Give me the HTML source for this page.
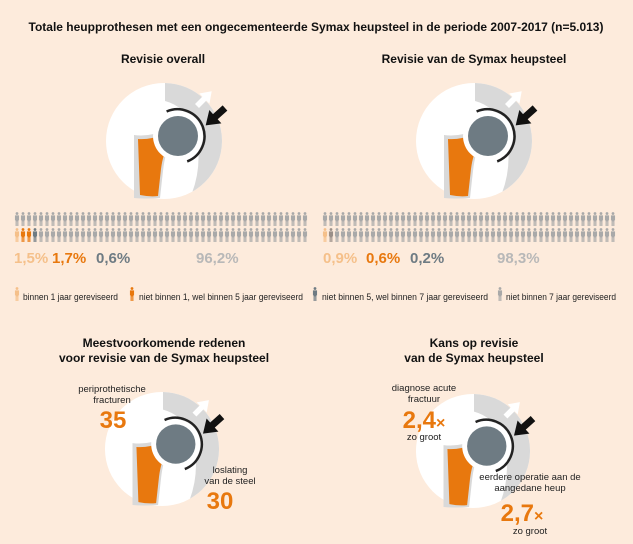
<!DOCTYPE html>
<html><head><meta charset="utf-8"><style>
html,body{margin:0;padding:0;background:#fdebdc;}
svg{display:block;font-family:"Liberation Sans",sans-serif;}
</style></head><body>
<svg width="633" height="544" viewBox="0 0 633 544" xmlns="http://www.w3.org/2000/svg">
<defs>
<clipPath id="gc"><path d="M1,-70 L90,-70 L90,30 L44,40 L28,52 Q40,20 30,-15 Q20,-35 1,-40 Z"/></clipPath>
<symbol id="hip" viewBox="-60 -60 120 120" overflow="visible">
  <circle cx="0" cy="0" r="58" fill="#ffffff"/>
  <circle cx="0" cy="0" r="58" fill="#d9d9d9" clip-path="url(#gc)"/>
  <path d="M-30,-6 L-30,57 Q-20,58 -4,57 L-1,30 Q1,12 6,4 L2,-11 Q-14,-4 -30,-6 Z" fill="#d9d9d9"/>
  <path d="M-26,-2 L-24,54 Q-14,56 -6,55 L-3,28 Q-1,12 5,4 L1,-7 Q-14,-1 -26,-2 Z" fill="#e8780e"/>
  <circle cx="14" cy="-5" r="25" fill="#ffffff"/>
  <path d="M2.6,-29.5 A27,27 0 1,1 23.2,20.4" fill="none" stroke="#222" stroke-width="2.5"/>
  <circle cx="14" cy="-5" r="20" fill="#6e7b83"/>
  <path transform="translate(33,-35) rotate(-45) scale(0.8)" d="M0,-3.5 L13,-3.5 L13,-9 L26,0 L13,9 L13,3.5 L0,3.5Z" fill="#ffffff"/>
  <path transform="translate(61,-33) rotate(138)" d="M0,-3.5 L13,-3.5 L13,-9 L26,0 L13,9 L13,3.5 L0,3.5Z" fill="#111"/>
</symbol>
<symbol id="p" viewBox="0 0 6 15">
  <circle cx="3" cy="1.6" r="1.5"/>
  <path d="M0.8,3.6 H5.2 V9 H4.5 V15 H3.3 V10 H2.7 V15 H1.5 V9 H0.8 Z"/>
</symbol>
</defs>

<text x="316" y="31" font-size="12" font-weight="bold" text-anchor="middle" fill="#111">Totale heupprothesen met een ongecementeerde Symax heupsteel in de periode 2007-2017 (n=5.013)</text>
<text x="163" y="63" font-size="12" font-weight="bold" text-anchor="middle" fill="#111">Revisie overall</text>
<text x="474" y="63" font-size="12" font-weight="bold" text-anchor="middle" fill="#111">Revisie van de Symax heupsteel</text>

<use href="#hip" x="104" y="81" width="120" height="120"/>
<use href="#hip" x="414" y="81" width="120" height="120"/>
<use href="#hip" x="103" y="390" width="118" height="118"/>
<use href="#hip" x="414" y="392" width="118" height="118"/>

<g id="people"></g>
<script>
(function(){
 var g=document.getElementById('people'),ns='http://www.w3.org/2000/svg';
 function add(x,y,c){var u=document.createElementNS(ns,'use');u.setAttribute('href','#p');u.setAttribute('x',x);u.setAttribute('y',y);u.setAttribute('width',6);u.setAttribute('height',14);u.setAttribute('fill',c);g.appendChild(u);}
 var G='#a9a9a9';
 for(var b=0;b<2;b++){var x0=b?322:14;
  for(var i=0;i<49;i++){add(x0+i*6,212,G);
   var c=G;
   if(b==0){if(i==0)c='#f5c08a';else if(i==1||i==2)c='#e8780e';else if(i==3)c='#6e7b83';}
   else{if(i==0)c='#f5c08a';else if(i==1)c='#9a8f88';}
   add(x0+i*6,228,c);}
 }
})();
</script>

<g font-size="15" font-weight="bold">
<text x="14" y="263" fill="#f5c08a">1,5%</text>
<text x="52" y="263" fill="#e8780e">1,7%</text>
<text x="96" y="263" fill="#6e7b83">0,6%</text>
<text x="196" y="263" fill="#b8b8b8">96,2%</text>
<text x="323" y="263" fill="#f5c08a">0,9%</text>
<text x="366" y="263" fill="#e8780e">0,6%</text>
<text x="410" y="263" fill="#6e7b83">0,2%</text>
<text x="497" y="263" fill="#b8b8b8">98,3%</text>
</g>

<g font-size="9" fill="#222">
<use href="#p" x="14" y="287" width="6" height="14" fill="#f5c08a"/>
<text x="23" y="300" textLength="95" lengthAdjust="spacingAndGlyphs">binnen 1 jaar gereviseerd</text>
<use href="#p" x="129" y="287" width="6" height="14" fill="#e8780e"/>
<text x="139" y="300" textLength="164" lengthAdjust="spacingAndGlyphs">niet binnen 1, wel binnen 5 jaar gereviseerd</text>
<use href="#p" x="312" y="287" width="6" height="14" fill="#6e7b83"/>
<text x="322" y="300" textLength="166" lengthAdjust="spacingAndGlyphs">niet binnen 5, wel binnen 7 jaar gereviseerd</text>
<use href="#p" x="497" y="287" width="6" height="14" fill="#a9a9a9"/>
<text x="506" y="300" textLength="110" lengthAdjust="spacingAndGlyphs">niet binnen 7 jaar gereviseerd</text>
</g>

<g font-size="12" font-weight="bold" text-anchor="middle" fill="#111">
<text x="164" y="347">Meestvoorkomende redenen</text>
<text x="164" y="362">voor revisie van de Symax heupsteel</text>
<text x="474" y="347">Kans op revisie</text>
<text x="474" y="362">van de Symax heupsteel</text>
</g>

<g font-size="9.5" text-anchor="middle" fill="#222">
<text x="112" y="392">periprothetische</text>
<text x="112" y="403">fracturen</text>
<text x="230" y="473">loslating</text>
<text x="230" y="484">van de steel</text>
<text x="424" y="391">diagnose acute</text>
<text x="424" y="402">fractuur</text>
<text x="424" y="440">zo groot</text>
<text x="530" y="480">eerdere operatie aan de</text>
<text x="530" y="491">aangedane heup</text>
<text x="530" y="534">zo groot</text>
</g>
<g font-size="24" font-weight="bold" fill="#e8780e" text-anchor="middle">
<text x="113" y="428">35</text>
<text x="220" y="509">30</text>
<text x="424" y="428">2,4<tspan font-size="16">×</tspan></text>
<text x="522" y="521">2,7<tspan font-size="16">×</tspan></text>
</g>
</svg>
</body></html>
